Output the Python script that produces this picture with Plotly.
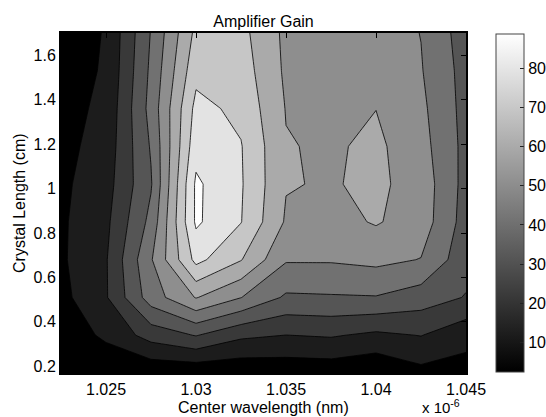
import plotly.graph_objects as go

# Center wavelength (units of 1e-6), crystal length (cm)
wavelength = [1.0225, 1.025, 1.0275, 1.03, 1.0325, 1.035, 1.0375, 1.04, 1.0425, 1.045]
crystal_length = [0.17, 0.34, 0.51, 0.68, 0.85, 1.02, 1.19, 1.36, 1.53, 1.70]

# Amplifier gain, rows follow crystal_length, columns follow wavelength
gain = [
    [2.5, 3.4, 4.4, 4.4, 4.4, 5.3, 5.8, 3.4, 9.1, 8.3],
    [5.3, 13.9, 25.1, 31.2, 23.2, 21.2, 22.2, 19.4, 21.6, 14.9],
    [9.1, 20.4, 44.8, 59.4, 49.7, 38.7, 39.2, 39.6, 35.4, 30.2],
    [10.5, 20.5, 48.6, 80.5, 68.8, 50.4, 50.4, 51.9, 49.2, 34.0],
    [10.5, 19.1, 42.9, 88.6, 78.0, 57.8, 55.7, 59.7, 54.5, 36.1],
    [10.0, 17.5, 39.2, 88.7, 78.6, 59.4, 58.2, 60.8, 55.0, 36.9],
    [9.1, 15.7, 41.0, 83.6, 78.2, 59.4, 57.7, 60.8, 53.0, 37.3],
    [8.6, 14.0, 43.4, 80.5, 75.4, 58.5, 57.0, 58.8, 51.6, 36.9],
    [8.1, 12.8, 42.0, 74.9, 73.0, 57.3, 55.1, 55.1, 50.1, 36.6],
    [7.7, 12.4, 40.6, 70.7, 71.1, 56.8, 54.2, 54.2, 49.3, 35.4],
]

x_ticks = [1.025, 1.03, 1.035, 1.04, 1.045]
x_ticktext = ["1.025", "1.03", "1.035", "1.04", "1.045"]
y_ticks = [0.2, 0.4, 0.6, 0.8, 1.0, 1.2, 1.4, 1.6]
y_ticktext = ["0.2", "0.4", "0.6", "0.8", "1", "1.2", "1.4", "1.6"]
cbar_ticks = [10, 20, 30, 40, 50, 60, 70, 80]

gain_min, gain_max = 2.5, 88.7
level_start, level_step, n_levels = 11.9, 9.4, 9

gray = [[0, "rgb(0,0,0)"], [1, "rgb(255,255,255)"]]
FONT = "Liberation Sans, Arial, Helvetica, sans-serif"

fig = go.Figure()
fig.add_trace(go.Contour(
    x=wavelength, y=crystal_length, z=gain,
    autocontour=False,
    contours=dict(start=level_start, end=level_start + level_step * (n_levels - 1) + 0.05,
                  size=level_step, coloring="fill", showlines=True),
    line=dict(color="black", width=0.8, smoothing=0),
    colorscale=gray, showscale=False, hoverinfo="skip",
))
# continuous colorbar (MATLAB style)
fig.add_trace(go.Scatter(
    x=[wavelength[0]], y=[crystal_length[0]], mode="markers",
    marker=dict(size=1, opacity=0, color=[gain_min], cmin=gain_min, cmax=gain_max,
                colorscale=gray, showscale=True,
                colorbar=dict(x=1.0733, xanchor="left", xpad=0, ypad=0,
                              y=0.5, yanchor="middle", len=0.994, lenmode="fraction",
                              thickness=28, thicknessmode="pixels",
                              outlinecolor="#444", outlinewidth=1,
                              tickvals=cbar_ticks, ticks="inside", ticklen=4,
                              tickcolor="#222",
                              tickfont=dict(family=FONT, size=16, color="black"))),
    hoverinfo="skip", showlegend=False,
))

fig.update_layout(
    width=546, height=417,
    margin=dict(l=61, r=80, t=33, b=44, autoexpand=False),
    paper_bgcolor="white", plot_bgcolor="white",
    font=dict(family=FONT, size=16, color="black"),
    showlegend=False,
    title=dict(text="Amplifier Gain", x=0.5, xref="paper", xanchor="center",
               y=1 - 21 / 417, yref="container", yanchor="middle",
               font=dict(family=FONT, size=16, color="black")),
    annotations=[
        dict(text="Center wavelength (nm)", xref="paper", yref="paper",
             x=0.5, y=-(407.5 - 373) / 340, xanchor="center", yanchor="middle",
             showarrow=False, font=dict(family=FONT, size=16, color="black")),
        dict(text="Crystal Length (cm)", xref="paper", yref="paper",
             x=-(61 - 19) / 405, y=0.5, xanchor="center", yanchor="middle",
             textangle=-90, showarrow=False,
             font=dict(family=FONT, size=16, color="black")),
        dict(text="x 10<sup>-6</sup>", xref="paper", yref="paper",
             x=0.99, y=-(406 - 373) / 340, xanchor="right", yanchor="middle",
             showarrow=False, font=dict(family=FONT, size=15, color="black")),
    ],
)
fig.update_xaxes(range=[1.0225, 1.045], tickvals=x_ticks, ticktext=x_ticktext,
                 ticks="inside", ticklen=5, tickcolor="black", mirror="ticks",
                 showline=True, linecolor="black", linewidth=2,
                 ticklabelstandoff=1,
                 showgrid=False, zeroline=False)
fig.update_yaxes(range=[0.17, 1.70], tickvals=y_ticks, ticktext=y_ticktext,
                 ticks="inside", ticklen=5, tickcolor="black", mirror="ticks",
                 showline=True, linecolor="black", linewidth=2,
                 showgrid=False, zeroline=False)

fig.write_html("out.html", config={"displayModeBar": False},
               post_script="document.body.style.margin='0px';document.body.style.overflow='hidden';")
